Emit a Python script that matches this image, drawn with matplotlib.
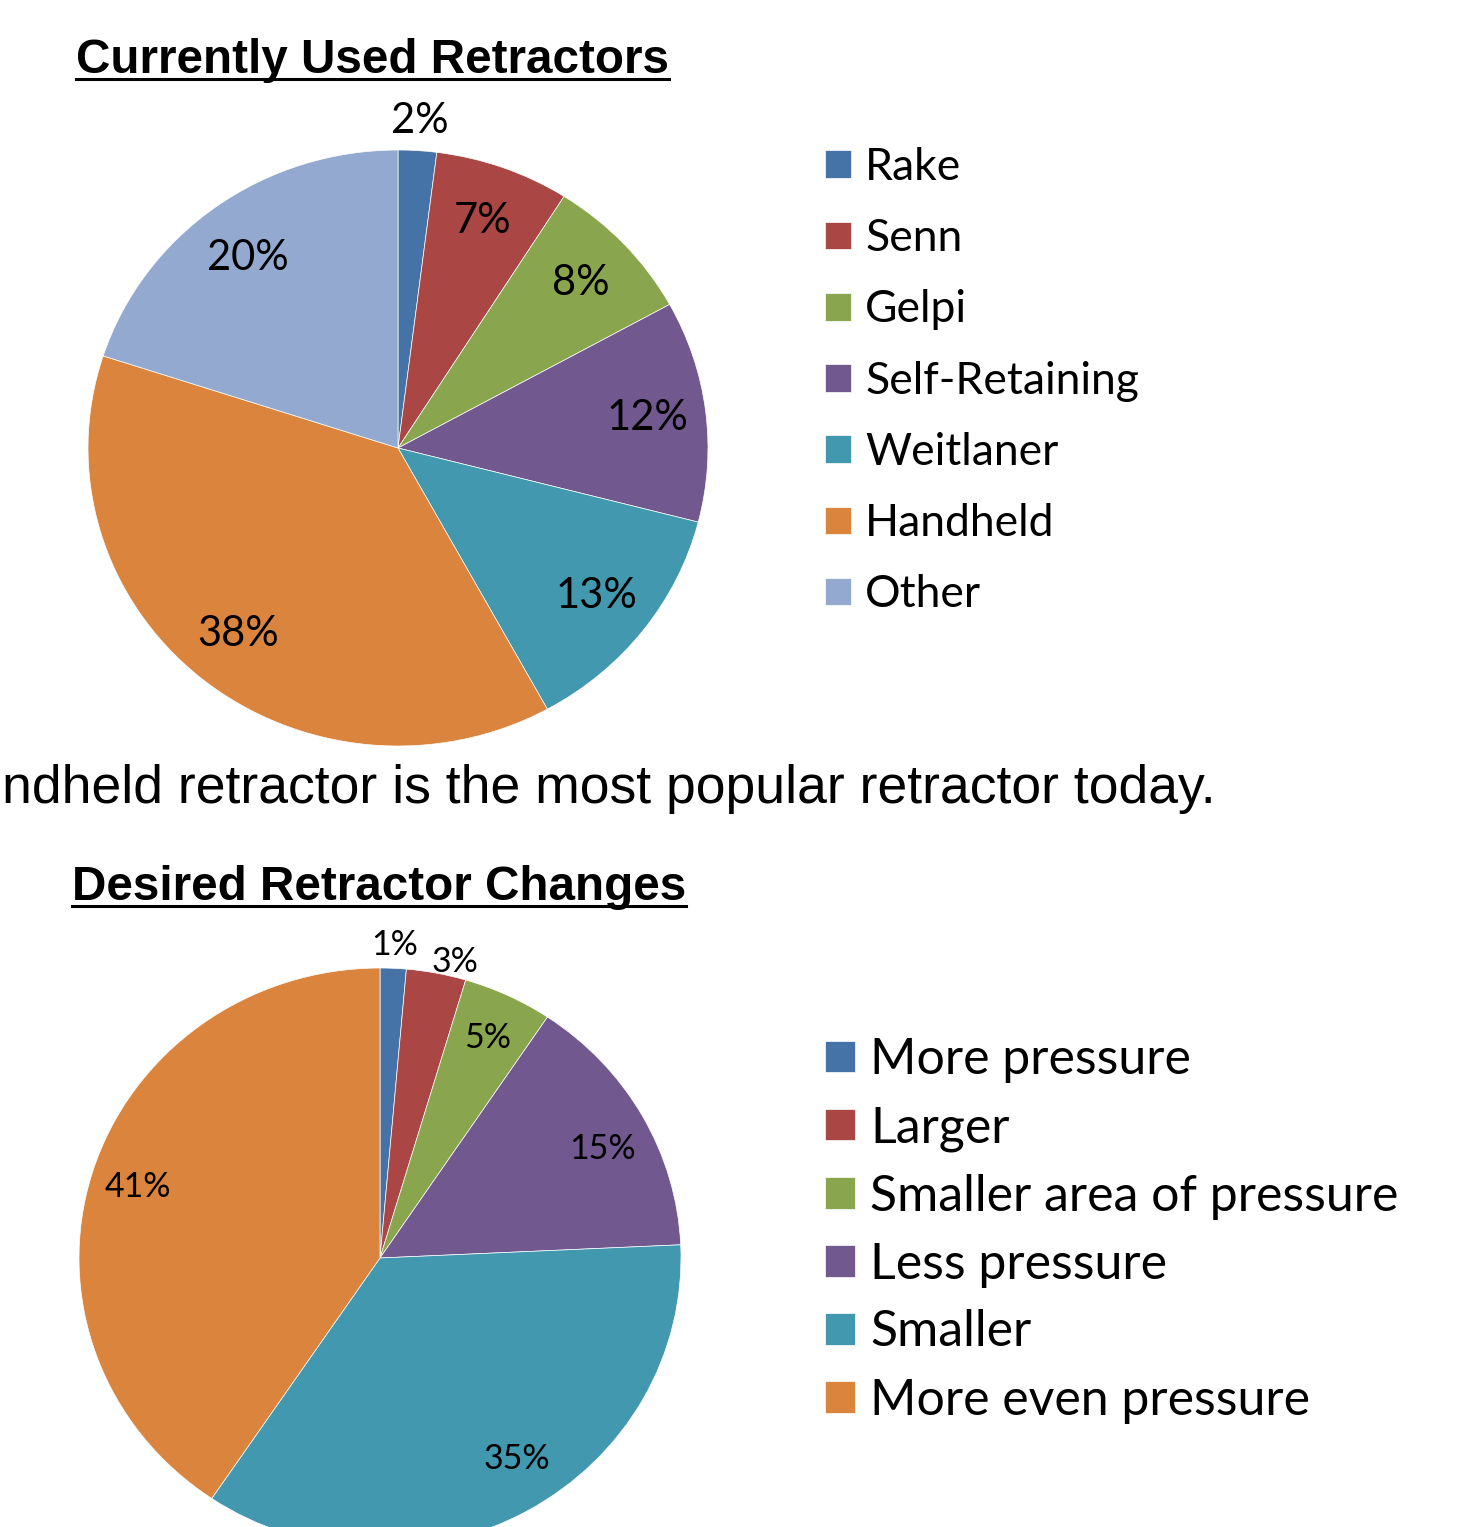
import matplotlib.pyplot as plt
from matplotlib.lines import Line2D
import numpy as np

W, H = 1465, 1527

used_labels = ['Rake', 'Senn', 'Gelpi', 'Self-Retaining', 'Weitlaner', 'Handheld', 'Other']
used_pct = [2, 7, 8, 12, 13, 38, 20]

change_labels = ['More pressure', 'Larger', 'Smaller area of pressure', 'Less pressure',
                 'Smaller', 'More even pressure']
change_pct = [1.4, 3.2, 4.8, 14.9, 35.2, 40.6]

colors = ['#4572A7', '#AA4643', '#89A54E', '#71588F', '#4198AF', '#DB843D', '#93A9CF']

title_font = ['Liberation Sans', 'DejaVu Sans']
chart_font = ['Lato', 'DejaVu Sans']

fig = plt.figure(figsize=(W / 100, H / 100), dpi=100)


def px_axes(cx, cy, rx, ry):
    return fig.add_axes([(cx - rx) / W, 1 - (cy + ry) / H, 2 * rx / W, 2 * ry / H])


def draw_pie(ax, vals, cols, pctdist, outside, fs):
    wedges, _ = ax.pie(vals, colors=cols, startangle=90, counterclock=False,
                       wedgeprops=dict(edgecolor='white', linewidth=0.5))
    for i, w in enumerate(wedges):
        mid = (w.theta1 + w.theta2) / 2
        r, shift = outside.get(i, (pctdist, 0))
        mid = np.deg2rad(mid + shift)
        ax.text(r * np.cos(mid), r * np.sin(mid), '%.0f%%' % vals[i], ha='center', va='center',
                fontsize=fs, family=chart_font, color='black')
    ax.set_aspect('auto')
    ax.set_xlim(-1, 1)
    ax.set_ylim(-1, 1)
    return wedges


def title(txt, x, y):
    t = fig.text(x / W, 1 - y / H, txt, fontsize=34.3, fontweight='bold', family=title_font,
                 ha='left', va='baseline')
    fig.canvas.draw()
    bb = t.get_window_extent()
    fig.add_artist(Line2D([bb.x0 / W, bb.x1 / W], [1 - (y + 6) / H] * 2, color='black',
                          linewidth=2.2, transform=fig.transFigure))


# top chart
ax1 = px_axes(398, 448, 310, 298)
w1 = draw_pie(ax1, used_pct, colors, 0.81, {0: (1.1, 0), 6: (0.80, 1.2)}, 30)
fig.legend(w1, used_labels, loc='upper left', bbox_to_anchor=(825 / W, 1 - 147 / H),
           frameon=False, prop={'family': chart_font, 'size': 32},
           handlelength=0.58, handleheight=0.58, handletextpad=0.32, labelspacing=0.68,
           borderpad=0, borderaxespad=0)
title('Currently Used Retractors', 76, 73)

fig.text(2 / W, 1 - 803 / H, 'ndheld retractor is the most popular retractor today.',
         fontsize=38.5, family=title_font, ha='left', va='baseline')

# bottom chart
ax2 = px_axes(380, 1258, 301, 290)
w2 = draw_pie(ax2, change_pct, colors[:6], 0.84,
              {0: (1.08, 0), 1: (1.05, -3), 3: (0.83, -2.6), 4: (0.83, 4)}, 24.5)
fig.legend(w2, change_labels, loc='upper left', bbox_to_anchor=(825 / W, 1 - 1037 / H),
           frameon=False, prop={'family': chart_font, 'size': 36},
           handlelength=0.6, handleheight=0.6, handletextpad=0.3, labelspacing=0.44,
           borderpad=0, borderaxespad=0)
title('Desired Retractor Changes', 72, 900)

fig.savefig('out.png', dpi=100)
